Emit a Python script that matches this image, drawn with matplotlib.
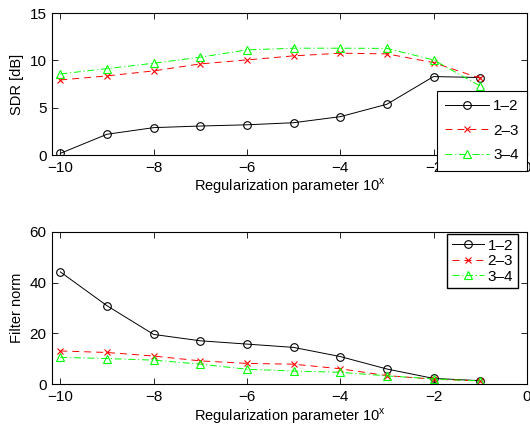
import matplotlib
matplotlib.use("Agg")
import matplotlib.pyplot as plt

plt.rcParams['font.family'] = ['Liberation Sans', 'DejaVu Sans']
plt.rcParams['font.size'] = 11
plt.rcParams['mathtext.fontset'] = 'custom'
plt.rcParams['mathtext.rm'] = 'Liberation Sans'
plt.rcParams['lines.scale_dashes'] = False

x = [-10, -9, -8, -7, -6, -5, -4, -3, -2, -1]
labels = ['1\u20132', '2\u20133', '3\u20134']

# SDR [dB]
sdr_12 = [0.18, 2.2, 2.9, 3.07, 3.2, 3.42, 4.06, 5.37, 8.3, 8.2]
sdr_23 = [7.94, 8.37, 8.9, 9.64, 10.06, 10.49, 10.77, 10.7, 9.78, 8.12]
sdr_34 = [8.58, 9.14, 9.71, 10.35, 11.12, 11.3, 11.3, 11.28, 10.06, 7.3]

# filter norm
fn_12 = [44.2, 30.9, 19.6, 17.1, 15.8, 14.5, 10.9, 6.0, 2.3, 1.4]
fn_23 = [13.1, 12.5, 11.1, 9.2, 8.2, 7.9, 6.1, 3.4, 2.0, 1.3]
fn_34 = [10.6, 10.1, 9.5, 7.9, 5.9, 5.2, 4.7, 3.3, 2.1, 1.3]

styles = [dict(color='black', linestyle='-', marker='o', markersize=5.5),
          dict(color='red', linestyle=(0, (5, 3.6)), marker='x', markersize=4.5),
          dict(color='#00ff00', linestyle=(0, (5, 2, 0.8, 2)), marker='^', markersize=6)]

fig = plt.figure(figsize=(5.3, 4.26), dpi=100)
ax1 = fig.add_axes([0.098, 0.636, 0.896, 0.333])
ax2 = fig.add_axes([0.098, 0.098, 0.896, 0.358])

for ax, series in ((ax1, (sdr_12, sdr_23, sdr_34)), (ax2, (fn_12, fn_23, fn_34))):
    for y, lab, st in zip(series, labels, styles):
        ax.plot(x, y, label=lab, linewidth=0.7,
                markerfacecolor='none', markeredgewidth=0.8, **st)
    ax.set_xlim(-10.18, 0)
    ax.set_xticks([-10, -8, -6, -4, -2, 0])
    ax.tick_params(direction='in', length=4, width=0.6, top=True, right=True,
                   labelsize=11, pad=4)
    for s in ax.spines.values():
        s.set_linewidth(0.8)
    ax.set_xlabel('Regularization parameter 10$^{\\mathregular{x}}$',
                  fontsize=10.5, labelpad=1.5)

ax1.set_ylim(0, 15)
ax1.set_yticks([0, 5, 10, 15])
ax1.set_ylabel('SDR [dB]', fontsize=10.5, labelpad=4)
ax2.set_ylim(0, 60)
ax2.set_yticks([0, 20, 40, 60])
ax2.set_ylabel('Filter norm', fontsize=10.5, labelpad=4)

leg1 = ax1.legend(loc='upper right', bbox_to_anchor=(527 / 530, 1 - 90.7 / 426),
                  bbox_transform=fig.transFigure, borderaxespad=0,
                  fancybox=False, edgecolor='black', framealpha=1,
                  handlelength=2.9, handletextpad=0.25, borderpad=0.55,
                  labelspacing=0.7, fontsize=11)
leg1.get_frame().set_linewidth(0.8)
leg1.set_zorder(10)

leg2 = ax2.legend(loc='upper right', bbox_to_anchor=(517.7 / 530, 1 - 234 / 426),
                  bbox_transform=fig.transFigure, borderaxespad=0,
                  fancybox=False, edgecolor='black', framealpha=1,
                  handlelength=2.1, handletextpad=0.25, borderpad=0.3,
                  labelspacing=0.1, fontsize=11)
leg2.get_frame().set_linewidth(1.0)

fig.savefig('out.png', dpi=100)
